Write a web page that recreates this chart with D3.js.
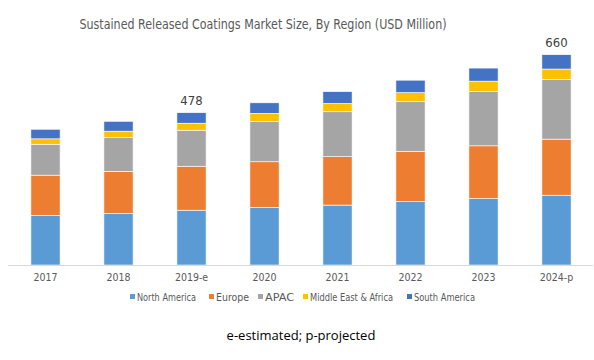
<!DOCTYPE html>
<html>
<head>
<meta charset="utf-8">
<script src="https://cdn.jsdelivr.net/npm/d3@7"></script>
<style>
  body { margin: 0; background: #fff; }
  svg text { font-family: "Liberation Sans Narrow", "DejaVu Sans Condensed", sans-serif; }
  .foot { font-family: "Open Sans", "Liberation Sans", sans-serif; }
</style>
</head>
<body>
<div id="chart-area"></div>
<script>
// Data (USD Million)
var years = ["2017", "2018", "2019-e", "2020", "2021", "2022", "2023", "2024-p"];
var regions = ["North America", "Europe", "APAC", "Middle East & Africa", "South America"];
var northAmerica = [156, 162, 172, 181, 188, 199, 209, 219];
var europe       = [126, 132, 138, 143, 152, 158, 165, 176];
var apac         = [97, 106, 113, 126, 141, 156, 170, 187];
var mea          = [17, 20, 22, 26, 26, 28, 33, 33];
var southAmerica = [30, 31, 33, 33, 37, 39, 41, 45];
var totalLabels  = {"2019-e": "478", "2024-p": "660"};
var colors = ["#5B9BD5", "#ED7D31", "#A5A5A5", "#FFC000", "#4472C4"];

var width = 594,
    height = 360;
var margin = {top: 40, bottom: 95, left: 9, right: 1};

var series = [northAmerica, europe, apac, mea, southAmerica];
var table = years.map(function(y, i) {
    var row = {year: y};
    regions.forEach(function(r, j) { row[r] = series[j][i]; });
    return row;
});
var stacked = d3.stack().keys(regions)(table);

var svg = d3.select("#chart-area").append("svg")
    .attr("width", width)
    .attr("height", height);

var x = d3.scaleBand()
    .domain(years)
    .range([margin.left, width - margin.right])
    .paddingInner(0.6)
    .paddingOuter(0.3);

var y = d3.scaleLinear()
    .domain([0, 660])
    .range([265, 54.7]);

var color = d3.scaleOrdinal().domain(regions).range(colors);

// title
svg.append("text")
    .attr("x", 263)
    .attr("y", 29)
    .attr("text-anchor", "middle")
    .attr("fill", "#595959")
    .attr("textLength", 367)
    .attr("lengthAdjust", "spacingAndGlyphs")
    .style("font-size", "14px")
    .text("Sustained Released Coatings Market Size, By Region (USD Million)");

// bars
svg.append("g").selectAll("g")
    .data(stacked)
    .enter().append("g")
    .attr("fill", function(d) { return color(d.key); })
    .selectAll("rect")
    .data(function(d) { return d; })
    .enter().append("rect")
    .attr("x", function(d) { return x(d.data.year); })
    .attr("y", function(d) { return y(d[1]); })
    .attr("height", function(d) { return y(d[0]) - y(d[1]); })
    .attr("width", x.bandwidth())
    .attr("stroke", "#fff")
    .attr("stroke-width", 0.6);

// x axis
var xAxis = d3.axisBottom(x).tickSize(0).tickPadding(9);
var gx = svg.append("g")
    .attr("transform", "translate(0,265)")
    .call(xAxis);
gx.select(".domain").attr("stroke", "#d9d9d9").attr("d", "M8,0.5H593");
gx.selectAll("text")
    .attr("fill", "#595959")
    .style("font-size", "10.5px")
    .style("font-family", "'Liberation Sans Narrow', 'DejaVu Sans Condensed', sans-serif");

// total labels
var last = stacked[stacked.length - 1];
svg.append("g").selectAll("text")
    .data(last.filter(function(d) { return totalLabels[d.data.year]; }))
    .enter().append("text")
    .attr("x", function(d) { return x(d.data.year) + x.bandwidth() / 2; })
    .attr("y", function(d) { return y(d[1]) - 8; })
    .attr("text-anchor", "middle")
    .attr("fill", "#404040")
    .style("font-size", "13px")
    .text(function(d) { return totalLabels[d.data.year]; });

// legend
var legendX = [130, 209, 258, 303, 407];
var legendW = [59, 33, 29, 83, 61];
var legend = svg.append("g").selectAll("g")
    .data(regions)
    .enter().append("g")
    .attr("transform", function(d, i) { return "translate(" + legendX[i] + ",297)"; });
legend.append("rect")
    .attr("x", 0)
    .attr("y", -3)
    .attr("width", 5)
    .attr("height", 5)
    .attr("fill", function(d) { return color(d); });
legend.append("text")
    .attr("x", 7)
    .attr("y", 3.5)
    .attr("fill", "#595959")
    .attr("textLength", function(d, i) { return legendW[i]; })
    .attr("lengthAdjust", "spacingAndGlyphs")
    .style("font-size", "10px")
    .text(function(d) { return d; });

// footnote
svg.append("text")
    .attr("class", "foot")
    .attr("x", 301)
    .attr("y", 340)
    .attr("text-anchor", "middle")
    .attr("fill", "#000")
    .style("font-size", "13px")
    .text("e-estimated; p-projected");
</script>
</body>
</html>
